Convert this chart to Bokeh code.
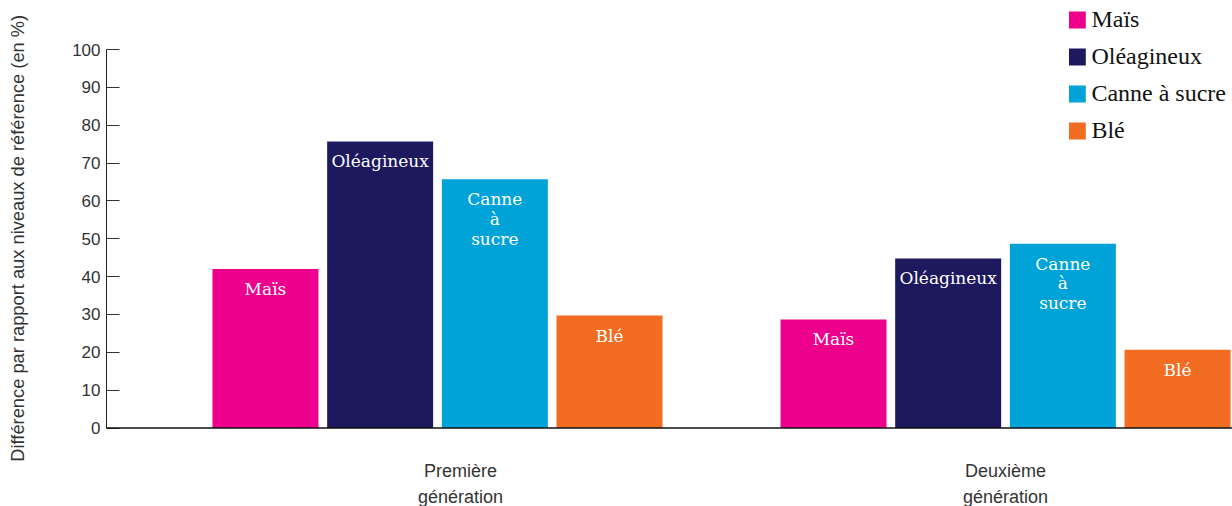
from bokeh.plotting import figure
from bokeh.models import ColumnDataSource, FixedTicker, Range1d, Legend, LegendItem, Label, Span
from bokeh.core.properties import value
from bokeh.embed import file_html
from bokeh.resources import INLINE

# ---- data ----
groups = ["Première\ngénération", "Deuxième\ngénération"]
series = ["Maïs", "Oléagineux", "Canne à sucre", "Blé"]
bar_texts = ["Maïs", "Oléagineux", "Canne\nà\nsucre", "Blé"]
mais = [42.0, 28.7]
oleagineux = [75.7, 44.8]
canne = [65.7, 48.7]
ble = [29.7, 20.7]
y_ticks = [0, 10, 20, 30, 40, 50, 60, 70, 80, 90, 100]
y_title = "Différence par rapport aux niveaux de référence (en %)"

# ---- style / layout ----
colors = ["#EC008C", "#1E185E", "#00A3D8", "#F26C22"]
pitch = 0.2019
bar_w = 0.1866
group_label_shift = [0.0405, 0.0]
x_start, x_end = -0.5827, 1.3996
y_start, y_end = -20.74, 112.95
title_pad = "\u00a0" * 6   # lifts the centred axis title to the middle of the 0-100 span

values = [mais, oleagineux, canne, ble]

p = figure(width=1232, height=506, output_backend="svg", toolbar_location=None,
           x_range=Range1d(x_start, x_end), y_range=Range1d(y_start, y_end),
           x_axis_location=None,
           min_border_left=106, min_border_right=0, min_border_top=0, min_border_bottom=0)
p.outline_line_color = None
p.xgrid.grid_line_color = None
p.ygrid.grid_line_color = None
p.background_fill_color = "white"

items = []
for k, (name, vals, col, txt) in enumerate(zip(series, values, colors, bar_texts)):
    xs = [g + (k - 1.5) * pitch for g in range(len(groups))]
    src = ColumnDataSource(dict(x=xs, top=vals, label=[txt] * len(xs)))
    r = p.vbar(x="x", top="top", width=bar_w, bottom=0, source=src,
               fill_color=col, line_color=None)
    p.text(x="x", y="top", text="label", source=src, text_align="center",
           text_baseline="top", y_offset=10, text_color="white",
           text_font=value("DejaVu Serif"), text_font_size="17px",
           text_line_height=0.98)
    items.append(LegendItem(label=name, renderers=[r]))

# baseline (x axis line)
p.add_layout(Span(location=0, dimension="width", line_color="#111111", line_width=1.5))

legend = Legend(items=items, location="top_right",
                label_text_font="Liberation Serif", label_text_font_size="24px",
                label_text_color="#111111",
                glyph_width=21, glyph_height=21, label_height=21, spacing=10,
                label_standoff=4, padding=0, margin=6,
                border_line_color=None, background_fill_alpha=0)
p.add_layout(legend)

# y axis
ya = p.yaxis[0]
ya.ticker = FixedTicker(ticks=y_ticks)
ya.bounds = (0, 100)
ya.major_tick_in = 13
ya.major_tick_out = 0
ya.minor_tick_line_color = None
ya.major_tick_line_color = "#333333"
ya.axis_line_color = "#222222"
ya.major_label_text_font = "Liberation Sans"
ya.major_label_text_font_size = "17px"
ya.major_label_text_color = "#333333"
ya.major_label_standoff = 6
ya.axis_label = title_pad + y_title
ya.axis_label_standoff = 41
ya.axis_label_text_font = "Liberation Sans"
ya.axis_label_text_font_size = "18.3px"
ya.axis_label_text_font_style = "normal"
ya.axis_label_text_color = "#333333"

# group names under the baseline
for i, (g, s) in enumerate(zip(groups, group_label_shift)):
    p.add_layout(Label(x=i + s, y=0, y_offset=-33, text=g, text_align="center",
                       text_baseline="top", text_font="Liberation Sans",
                       text_font_size="18px", text_color="#333333",
                       text_line_height=1.29))

open("out.html", "w").write(file_html(p, INLINE))
